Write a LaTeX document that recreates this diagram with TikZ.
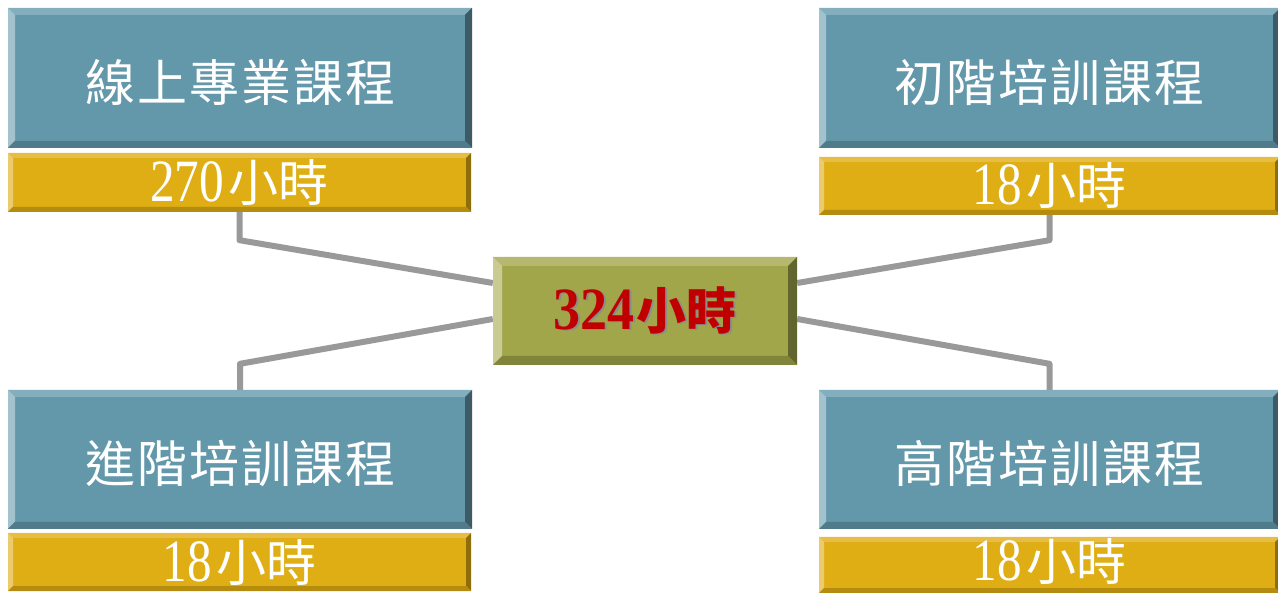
\documentclass[tikz,border=0pt]{standalone}
\usepackage{fontspec}
\setmainfont{Liberation Serif}
\newfontfamily\cjk{Noto Sans CJK TC}
\newfontfamily\cjkwide{Noto Sans CJK TC}[LetterSpace=4]
\newfontfamily\digits{Liberation Serif}[FakeStretch=0.82]
\newfontfamily\bigdigits{Liberation Serif}[FakeStretch=0.9]
\usetikzlibrary{backgrounds}
\definecolor{blueF}{HTML}{6398AB}
\definecolor{blueT}{HTML}{82AEBD}
\definecolor{blueL}{HTML}{A2C3CE}
\definecolor{blueR}{HTML}{3D5B66}
\definecolor{blueB}{HTML}{4F7B8A}
\definecolor{goldF}{HTML}{DFAE15}
\definecolor{goldT}{HTML}{E6BD45}
\definecolor{goldL}{HTML}{ECCB6F}
\definecolor{goldR}{HTML}{8E6E0B}
\definecolor{goldB}{HTML}{B58C10}
\definecolor{oliveF}{HTML}{A1A64A}
\definecolor{oliveT}{HTML}{B5B86E}
\definecolor{oliveL}{HTML}{C9CB93}
\definecolor{oliveR}{HTML}{62652D}
\definecolor{oliveB}{HTML}{81853B}
\definecolor{totalred}{HTML}{C00000}
\newcommand{\hrs}[1]{{\digits #1}\hspace{5pt}{\cjk\fontsize{50}{50}\selectfont 小時}}
\newcommand{\shadowed}[1]{\rlap{\kern1.5pt\raisebox{-1.5pt}{\color{black!45}#1}}#1}
\tikzset{bevel/.style n args={6}{fill=#1, path picture={
    \path (path picture bounding box.north west) coordinate (nw)
          (path picture bounding box.north east) coordinate (ne)
          (path picture bounding box.south east) coordinate (se)
          (path picture bounding box.south west) coordinate (sw);
    \fill[#2] (nw) -- (ne) -- ([xshift=-#6,yshift=-#6]ne) -- ([xshift=#6,yshift=-#6]nw) -- cycle;
    \fill[#3] (nw) -- ([xshift=#6,yshift=-#6]nw) -- ([xshift=#6,yshift=#6]sw) -- (sw) -- cycle;
    \fill[#4] (ne) -- (se) -- ([xshift=-#6,yshift=#6]se) -- ([xshift=-#6,yshift=-#6]ne) -- cycle;
    \fill[#5] (sw) -- (se) -- ([xshift=-#6,yshift=#6]se) -- ([xshift=#6,yshift=#6]sw) -- cycle;
  }}}

\begin{document}
\begin{tikzpicture}[x=1pt, y=-1pt,
    Course/.style={rectangle, inner sep=0pt, minimum height=140pt, text=white,
      text height=52pt, text depth=5pt,
      bevel={blueF}{blueT}{blueL}{blueR}{blueB}{7pt}, font=\cjkwide\fontsize{50}{50}\selectfont},
    Hours/.style={rectangle, inner sep=0pt, minimum height=58pt, text=white,
      bevel={goldF}{goldT}{goldL}{goldR}{goldB}{5pt}, font=\fontsize{60}{60}\selectfont},
    Link/.style={draw=black!40, line width=6pt, line join=round}]
    % \draw[help lines, gray] (0,0) grid[step=100pt] (1278,593);
    \useasboundingbox (0,0) rectangle (1278,593);
    \node[Course, minimum width=464pt] (OL) at (240,78){線上專業課程};
    \node[Hours, minimum width=463pt, minimum height=59pt] (OLh) at (239.5,182.5){\hrs{270}};
    \node[Course, minimum width=461pt] (B) at (1049.5,78){初階培訓課程};
    \node[Hours, minimum width=461pt] (Bh) at (1049.5,186){\hrs{18}};
    \node[Course, minimum width=464pt, minimum height=139pt] (Adv) at (240,459.5){進階培訓課程};
    \node[Hours, minimum width=463pt] (Advh) at (239.5,562){\hrs{18}};
    \node[Course, minimum width=461pt, minimum height=139pt] (H) at (1049.5,459.5){高階培訓課程};
    \node[Hours, minimum width=461pt, minimum height=56pt, text depth=11pt] (Hh) at (1049.5,565){\hrs{18}};
    \node[rectangle, inner sep=0pt, minimum width=304pt, minimum height=108pt, text=totalred,
      bevel={oliveF}{oliveT}{oliveL}{oliveR}{oliveB}{9pt},
      font=\bfseries\fontsize{60}{60}\selectfont] (T) at (645,311)
      {\shadowed{{\bigdigits 324}\hspace{2pt}{\cjk\fontsize{50}{50}\selectfont 小時}}};

    \begin{scope}[on background layer]
        \draw[Link] (OLh.south) -- ++(0,28) -- ([yshift=28pt]T.west);
        \draw[Link] (Bh.south) -- ++(0,25) -- ([yshift=28pt]T.east);
        \draw[Link] (Adv.north) -- ++(0,-26) -- ([yshift=-8pt]T.west);
        \draw[Link] (H.north) -- ++(0,-26) -- ([yshift=-8pt]T.east);
    \end{scope}
\end{tikzpicture}
\end{document}
